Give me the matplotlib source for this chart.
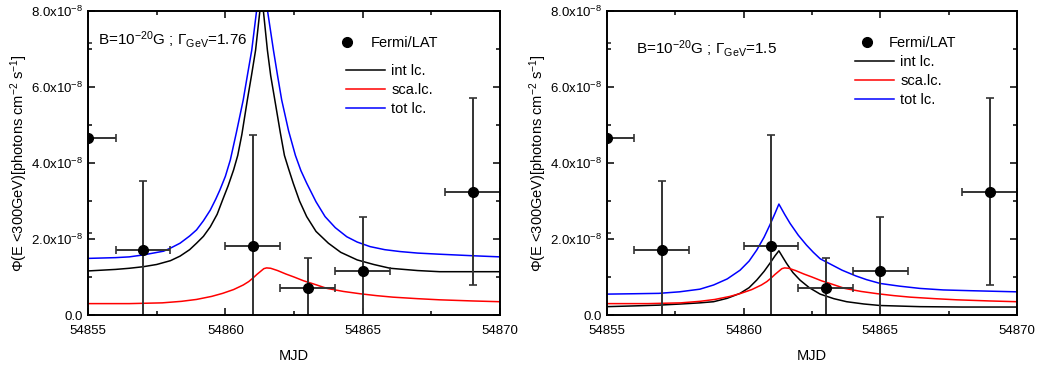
import matplotlib
matplotlib.use("Agg")
import matplotlib.pyplot as plt
from matplotlib.lines import Line2D
from matplotlib.ticker import FuncFormatter, MultipleLocator
import numpy as np

plt.rcParams["font.family"] = "Liberation Sans"
plt.rcParams["mathtext.default"] = "regular"

# Fermi/LAT points (flux in units of 1e-8)
FERMI_MJD = [54855, 54857, 54861, 54863, 54865, 54869]
FERMI_XERR = [1, 1, 1, 1, 1, 1]
FERMI_FLUX = [4.65, 1.70, 1.82, 0.70, 1.17, 3.25]
FERMI_YERR = [2.5, 1.84, 2.91, 0.80, 1.40, 2.47]

# scattered light curve (same in both panels)
SCA_MJD = [54855.0, 54856.5, 54857.7, 54858.4, 54858.95, 54859.5, 54859.9, 54860.3,
           54860.65, 54860.85, 54861.0, 54861.15, 54861.3, 54861.4, 54861.5, 54861.65,
           54861.9, 54862.2, 54862.5, 54862.85, 54863.2, 54863.7, 54864.3, 54864.9,
           54865.5, 54866.1, 54867.0, 54867.8, 54869.0, 54870.0]
SCA_FLUX = [0.30, 0.30, 0.32, 0.36, 0.41, 0.49, 0.57, 0.67,
            0.79, 0.88, 0.97, 1.07, 1.16, 1.22, 1.24, 1.23,
            1.17, 1.08, 1.00, 0.90, 0.82, 0.70, 0.62, 0.56,
            0.51, 0.47, 0.43, 0.40, 0.37, 0.35]

# left panel, Gamma = 1.76
INT1_MJD = [54855.0, 54856.0, 54856.5, 54857.0, 54857.5, 54858.0, 54858.35, 54858.7,
            54858.95, 54859.2, 54859.45, 54859.7, 54859.9, 54860.1, 54860.3, 54860.45,
            54860.6, 54860.8, 54860.95, 54861.1, 54861.26, 54861.32, 54861.38, 54861.53,
            54861.65, 54861.8, 54862.0, 54862.15, 54862.3, 54862.47, 54862.7, 54862.96,
            54863.3, 54863.75, 54864.2, 54864.8, 54865.4, 54866.0, 54867.0, 54867.8,
            54870.0]
INT1_FLUX = [1.16, 1.20, 1.23, 1.27, 1.33, 1.43, 1.55, 1.72,
             1.89, 2.07, 2.32, 2.65, 3.03, 3.40, 3.82, 4.20,
             4.75, 5.66, 6.30, 6.97, 8.03, 9.0, 8.03, 6.97,
             6.30, 5.66, 4.80, 4.20, 3.85, 3.47, 3.00, 2.59,
             2.20, 1.89, 1.65, 1.45, 1.33, 1.23, 1.17, 1.14,
             1.14]
TOT1_MJD = [54855.0, 54856.0, 54856.5, 54857.0, 54857.75, 54858.0, 54858.35, 54858.7,
            54858.95, 54859.2, 54859.45, 54859.65, 54859.8, 54860.0, 54860.18, 54860.4,
            54860.65, 54860.8, 54860.96, 54861.14, 54861.33, 54861.53, 54861.75, 54861.9,
            54862.05, 54862.3, 54862.55, 54862.75, 54862.96, 54863.3, 54863.63, 54864.0,
            54864.42, 54864.8, 54865.27, 54865.8, 54866.36, 54867.0, 54867.8, 54869.0,
            54870.0]
TOT1_FLUX = [1.49, 1.51, 1.53, 1.58, 1.68, 1.76, 1.89, 2.08,
             2.24, 2.48, 2.76, 3.05, 3.29, 3.65, 4.08, 4.80,
             5.66, 6.30, 6.97, 8.03, 9.5, 8.03, 6.97, 6.30,
             5.66, 4.85, 4.20, 3.80, 3.47, 2.98, 2.59, 2.30,
             2.06, 1.92, 1.80, 1.72, 1.67, 1.63, 1.60, 1.56,
             1.53]

# right panel, Gamma = 1.5
INT2_MJD = [54855.0, 54856.0, 54856.9, 54857.7, 54858.4, 54858.9, 54859.4, 54859.87,
            54860.2, 54860.48, 54860.75, 54860.96, 54861.15, 54861.29, 54861.45, 54861.57,
            54861.8, 54862.06, 54862.4, 54862.8, 54863.3, 54863.77, 54864.4, 54865.0,
            54866.45, 54868.0, 54870.0]
INT2_FLUX = [0.22, 0.24, 0.26, 0.29, 0.32, 0.35, 0.44, 0.57,
             0.72, 0.92, 1.15, 1.36, 1.56, 1.69, 1.50, 1.36,
             1.12, 0.92, 0.72, 0.55, 0.43, 0.35, 0.29, 0.25,
             0.22, 0.21, 0.21]
TOT2_MJD = [54855.0, 54856.0, 54856.9, 54857.65, 54858.4, 54858.9, 54859.4, 54859.87,
            54860.2, 54860.48, 54860.75, 54860.96, 54861.15, 54861.29, 54861.5, 54861.7,
            54862.0, 54862.3, 54862.55, 54862.8, 54863.2, 54863.6, 54864.1, 54864.5,
            54865.0, 54865.7, 54866.45, 54867.3, 54868.3, 54870.0]
TOT2_FLUX = [0.55, 0.56, 0.57, 0.61, 0.68, 0.79, 0.95, 1.18,
             1.42, 1.71, 2.05, 2.37, 2.68, 2.92, 2.65, 2.41,
             2.10, 1.84, 1.65, 1.48, 1.33, 1.18, 1.03, 0.93,
             0.83, 0.76, 0.70, 0.66, 0.64, 0.61]

SCALE = 1e-8


def yfmt(v, pos):
    if abs(v) < 1e-12:
        return "0.0"
    return "%.1fx10$^{-8}$" % (v / SCALE)


def panel(ax, int_mjd, int_flux, tot_mjd, tot_flux, label, leg):
    ax.plot(int_mjd, np.array(int_flux) * SCALE, color="black", lw=1.1)
    ax.plot(SCA_MJD, np.array(SCA_FLUX) * SCALE, color="#ff0000", lw=1.1)
    ax.plot(tot_mjd, np.array(tot_flux) * SCALE, color="#0000ff", lw=1.1)
    ax.errorbar(FERMI_MJD, np.array(FERMI_FLUX) * SCALE, xerr=FERMI_XERR,
                yerr=np.array(FERMI_YERR) * SCALE, fmt="o", color="black",
                ecolor="#333333", elinewidth=1.4, capsize=3, capthick=1.2, ms=7)

    ax.set_xlim(54855, 54870)
    ax.set_ylim(0, 8e-8)
    ax.xaxis.set_major_locator(MultipleLocator(5))
    ax.xaxis.set_minor_locator(MultipleLocator(2.5))
    ax.yaxis.set_major_locator(MultipleLocator(2e-8))
    ax.yaxis.set_minor_locator(MultipleLocator(1e-8))
    ax.yaxis.set_major_formatter(FuncFormatter(yfmt))
    ax.tick_params(which="both", direction="in", top=True, right=True, labelsize=9.5)
    ax.tick_params(which="major", length=5, width=1.1)
    ax.tick_params(axis="x", which="major", pad=7)
    ax.tick_params(which="minor", length=3, width=1.1)
    for s in ax.spines.values():
        s.set_linewidth(1.4)
    ax.set_xlabel("MJD", fontsize=10.5, labelpad=9)
    ax.set_ylabel("Φ(E <300GeV)[photons cm$^{-2}$ s$^{-1}$]", fontsize=10.5,
                  labelpad=1)

    ax.text(label[0], label[1], label[2], transform=ax.transAxes, fontsize=11,
            va="center", ha="left")

    pt = [Line2D([0], [0], marker="o", color="black", ls="none", ms=7)]
    l1 = ax.legend(pt, ["Fermi/LAT"], loc="upper left", bbox_to_anchor=leg[0],
                   frameon=False, borderpad=0, borderaxespad=0, handlelength=1.0,
                   handletextpad=leg[1], fontsize=10.5)
    ax.add_artist(l1)
    lines = [Line2D([0], [0], color="black", lw=1.1),
             Line2D([0], [0], color="#ff0000", lw=1.1),
             Line2D([0], [0], color="#0000ff", lw=1.1)]
    ax.legend(lines, ["int lc.", "sca.lc.", "tot lc."], loc="upper left",
              bbox_to_anchor=leg[2], frameon=False, borderpad=0, borderaxespad=0,
              handlelength=2.7, handletextpad=0.4, labelspacing=0.35, fontsize=10.5)


fig = plt.figure(figsize=(10.37, 3.69), dpi=100)
ax1 = fig.add_axes([0.0849, 0.1463, 0.3973, 0.8238])
ax2 = fig.add_axes([0.5853, 0.1463, 0.3954, 0.8238])

panel(ax1, INT1_MJD, INT1_FLUX, TOT1_MJD, TOT1_FLUX,
      (0.025, 0.905, "B=10$^{-20}$G ; $\\Gamma_{GeV}$=1.76"),
      ((0.612, 0.918), 1.1, (0.626, 0.826)))
panel(ax2, INT2_MJD, INT2_FLUX, TOT2_MJD, TOT2_FLUX,
      (0.07, 0.878, "B=10$^{-20}$G ; $\\Gamma_{GeV}$=1.5"),
      ((0.617, 0.918), 1.0, (0.605, 0.855)))

fig.savefig("out.png", dpi=100)
